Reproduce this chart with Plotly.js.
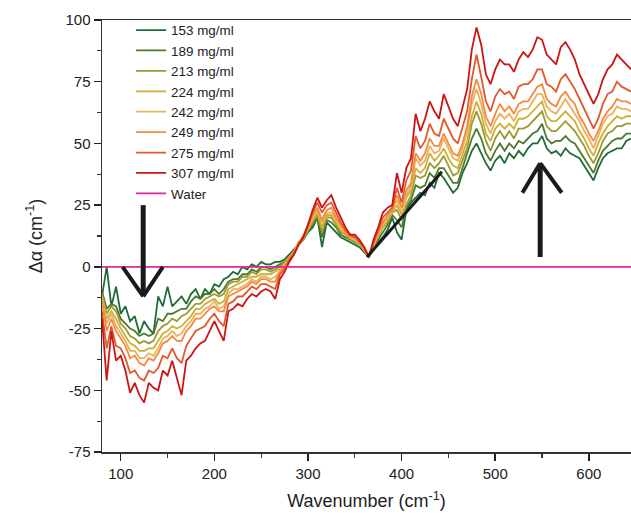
<!DOCTYPE html>
<html><head><meta charset="utf-8">
<script src="https://cdn.plot.ly/plotly-3.0.1.min.js"></script>
<style>html,body{margin:0;padding:0;background:#fff}#chart{width:631px;height:521px}</style>
</head><body><div id="chart"></div>
<script>
const wavenumber = [80,85,90,95,100,105,110,115,120,125,130,135,140,145,150,155,160,165,170,175,180,185,190,195,200,205,210,215,220,225,230,235,240,245,250,255,260,265,270,275,280,285,290,295,300,305,310,315,320,325,330,335,340,345,350,355,360,365,370,375,380,385,390,395,400,405,410,415,420,425,430,435,440,445,450,455,460,465,470,475,480,485,490,495,500,505,510,515,520,525,530,535,540,545,550,555,560,565,570,575,580,585,590,595,600,605,610,615,620,625,630,635,640,645];

const s153 = [-12,0,-16,-8,-19,-16,-22,-20,-27,-22,-25,-27,-12,-16,-8,-16,-14,-12,-15,-11,-9,-13,-9,-11,-7,-8,-5,-4,-2,-3,0,-1,1,0,2,1,1,2,2,3,5,7,9,11,14,16,20,8,18,16,14,12,11,10,9,8,6,4,7,10,12,15,20,14,11,23,26,28,30,29,34,32,38,36,33,30,32,38,42,47,50,46,42,39,43,45,42,46,44,47,45,48,50,50,53,48,46,47,45,48,46,45,44,41,38,35,40,44,46,47,48,48,51,52];
const s189 = [-10,-17,-15,-16,-21,-23,-25,-26,-28,-27,-28,-27,-21,-22,-19,-19,-18,-17,-17,-14,-12,-13,-11,-11,-9,-11,-9,-6,-5,-5,-3,-3,-1,-2,0,0,-1,0,1,2,4,7,9,12,14,17,20,12,19,18,16,13,12,11,10,9,6,4,8,11,14,17,21,19,16,24,27,33,32,33,38,36,40,40,37,34,34,40,45,52,56,52,46,43,47,50,47,50,48,51,50,52,54,55,58,52,50,51,51,53,51,50,47,44,41,38,43,47,49,51,52,52,54,54];
const s213 = [-11,-19,-16,-18,-23,-25,-28,-29,-31,-30,-31,-30,-26,-24,-23,-21,-22,-20,-19,-17,-15,-15,-13,-12,-11,-12,-11,-7,-6,-6,-4,-4,-2,-3,-1,-1,-2,-1,0,2,4,6,9,11,15,18,21,14,20,20,17,14,13,11,10,9,7,4,8,12,16,18,22,23,19,25,29,37,36,37,42,40,42,45,41,37,38,43,48,58,63,58,51,47,52,55,52,55,52,56,56,57,59,61,63,57,55,55,57,59,57,55,52,49,45,42,46,51,54,55,57,57,58,58];
const s224 = [-12,-21,-18,-21,-25,-28,-31,-32,-34,-34,-33,-33,-30,-27,-26,-24,-25,-24,-22,-20,-17,-17,-15,-14,-13,-15,-14,-9,-8,-7,-6,-5,-4,-4,-3,-3,-3,-2,-1,1,4,6,10,12,15,19,22,16,21,21,18,15,13,12,11,9,7,4,9,13,16,19,22,25,21,28,31,40,38,40,46,43,45,48,44,41,40,46,51,61,67,62,54,51,56,58,56,58,56,60,60,61,63,65,67,61,59,59,61,63,61,59,55,52,48,45,50,54,57,59,61,60,61,61];
const s242 = [-13,-23,-19,-24,-27,-30,-34,-34,-37,-37,-35,-36,-33,-29,-28,-26,-28,-27,-24,-22,-19,-19,-17,-16,-14,-17,-16,-11,-9,-9,-8,-7,-5,-6,-4,-4,-5,-4,-2,1,3,6,9,13,16,20,23,18,22,22,19,16,14,12,11,10,7,4,9,13,17,20,23,27,22,29,33,44,41,43,49,46,47,52,48,44,43,48,55,66,72,66,58,54,59,62,60,62,59,63,64,64,67,70,70,65,63,62,65,68,65,62,59,55,52,48,53,58,61,62,65,64,64,63];
const s249 = [-14,-26,-21,-26,-29,-32,-37,-36,-39,-40,-37,-38,-35,-31,-30,-28,-30,-30,-26,-24,-21,-21,-19,-17,-16,-18,-18,-12,-11,-10,-9,-8,-6,-7,-5,-5,-6,-6,-2,0,3,6,10,12,16,21,24,19,23,24,20,17,14,12,12,10,7,4,10,14,18,21,23,29,24,31,34,46,43,46,52,49,49,54,50,46,45,50,57,69,76,70,61,57,62,66,63,65,62,66,67,67,70,73,74,68,66,65,69,71,68,66,61,58,54,51,55,60,63,65,68,67,67,66];
const s275 = [-18,-33,-24,-32,-33,-37,-43,-42,-45,-46,-42,-43,-41,-36,-37,-33,-37,-39,-32,-29,-26,-25,-24,-21,-19,-22,-24,-15,-14,-12,-12,-10,-8,-9,-7,-7,-8,-9,-3,-1,3,5,9,12,17,22,26,22,25,26,22,18,15,13,12,10,8,4,10,15,20,22,24,32,26,35,39,53,48,51,58,54,53,60,56,52,50,56,63,76,86,77,67,63,69,72,70,71,68,73,74,74,76,80,80,74,73,71,76,78,75,72,68,64,60,56,60,66,70,71,75,73,72,71];
const s307 = [-21,-46,-26,-38,-36,-42,-51,-47,-52,-55,-47,-49,-50,-42,-44,-38,-45,-52,-38,-36,-33,-31,-30,-26,-22,-26,-30,-18,-17,-15,-16,-13,-11,-12,-10,-9,-10,-13,-5,-2,2,5,9,12,17,23,28,24,27,29,24,20,16,13,13,11,8,4,11,16,22,24,25,38,30,40,44,62,55,60,67,63,60,70,65,60,57,64,72,88,97,90,78,74,80,84,82,82,79,84,87,85,88,93,92,86,84,82,89,91,88,84,78,74,70,66,70,76,80,82,86,84,82,80];
const water = [0,0];
const waterX = [80,645];

const seriesNames = ['153 mg/ml','189 mg/ml','213 mg/ml','224 mg/ml','242 mg/ml','249 mg/ml','275 mg/ml','307 mg/ml'];
const seriesColors = ['#1f6b37','#4e7a2e','#9b9a34','#cdb034','#e9b25e','#f48a3c','#e0582c','#cc1414'];
const seriesData = [s153,s189,s213,s224,s242,s249,s275,s307];

const xTicks = [100,200,300,400,500,600];
const yTicks = [-75,-50,-25,0,25,50,75,100];

// annotation arrows (data coordinates)
const downArrow = {shaft:[[124,25],[124,-11]], head:[[102,0],[124,-12],[145,0]]};
const upArrow = {shaft:[[548,4],[548,41]], head:[[529,30],[548,42],[571,30]]};
const diagLine = [[363,4],[443,38.5]];

const traces = seriesData.map((ys,i)=>({
  x: wavenumber, y: ys, type:'scatter', mode:'lines', name: seriesNames[i],
  line:{color: seriesColors[i], width:1.8}
}));
traces.push({x: waterX, y: water, type:'scatter', mode:'lines', name:'Water', line:{color:'#e0289a', width:1.8}});

const shapes = [];
function seg(p,q,w){shapes.push({type:'line',xref:'x',yref:'y',x0:p[0],y0:p[1],x1:q[0],y1:q[1],line:{color:'#1a1a1a',width:w}});}
seg(downArrow.shaft[0],downArrow.shaft[1],5);
seg(downArrow.head[0],downArrow.head[1],4); seg(downArrow.head[2],downArrow.head[1],4);
seg(upArrow.shaft[0],upArrow.shaft[1],5);
seg(upArrow.head[0],upArrow.head[1],4); seg(upArrow.head[2],upArrow.head[1],4);
seg(diagLine[0],diagLine[1],3);

const layout = {
  width:631, height:521,
  margin:{l:102, r:0, t:20, b:69},
  paper_bgcolor:'#fff', plot_bgcolor:'#fff',
  font:{family:'Liberation Sans, Arial, sans-serif', color:'#222', size:15},
  showlegend:true,
  legend:{x:0.055, y:1.012, xanchor:'left', yanchor:'top', bgcolor:'rgba(0,0,0,0)', font:{size:13.4, color:'#222'}, tracegroupgap:0, itemwidth:30},
  xaxis:{range:[80,645], tickvals:xTicks, ticktext:xTicks.map(String), ticks:'outside', ticklen:7, tickwidth:1.5, tickcolor:'#222',
    showline:true, linecolor:'#333', linewidth:1.5, mirror:true, showgrid:false, zeroline:false,
    minor:{dtick:50, tick0:0, ticks:'outside', ticklen:4, tickwidth:1.2, tickcolor:'#333', showgrid:false},
    title:{text:'Wavenumber (cm<sup>-1</sup>)', font:{size:18, color:'#222'}, standoff:14}},
  yaxis:{range:[-75,100], tickvals:yTicks, ticktext:yTicks.map(String), ticks:'outside', ticklen:7, tickwidth:1.5, tickcolor:'#222',
    showline:true, linecolor:'#333', linewidth:1.5, showgrid:false, zeroline:false,
    minor:{dtick:12.5, tick0:0, ticks:'outside', ticklen:4, tickwidth:1.2, tickcolor:'#333', showgrid:false},
    title:{text:'Δα (cm<sup>-1</sup>)', font:{size:18, color:'#222'}, standoff:18}},
  shapes: shapes
};
Plotly.newPlot('chart', traces, layout, {displayModeBar:false, staticPlot:true});
</script></body></html>
